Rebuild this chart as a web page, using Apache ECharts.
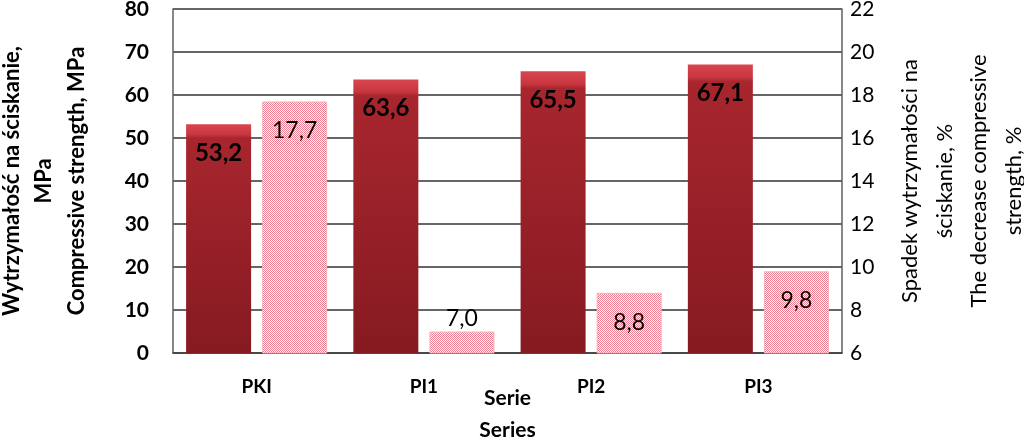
<!DOCTYPE html>
<html>
<head>
<meta charset="utf-8">
<script src="https://cdn.jsdelivr.net/npm/echarts@6/dist/echarts.min.js"></script>
<style>html,body{margin:0;padding:0;background:#fff}#c{width:1024px;height:439px}</style>
</head>
<body>
<div id="c"></div>
<script>
var categories = ['PKI', 'PI1', 'PI2', 'PI3'];
var strength = [53.2, 63.6, 65.5, 67.1];
var decrease = [17.7, 7.0, 8.8, 9.8];
var leftTicks = {min: 0, max: 80, interval: 10};
var rightTicks = {min: 6, max: 22, interval: 2};

var FONT = 'Lato';
function fmt(v){ return v.toFixed(1).replace('.', ','); }

var pc = document.createElement('canvas');
pc.width = 2; pc.height = 2;
var g = pc.getContext('2d');
g.fillStyle = '#ffffff'; g.fillRect(0,0,2,2);
g.fillStyle = '#ec7c8e'; g.fillRect(0,0,1,1); g.fillRect(1,1,1,1);

var chart = echarts.init(document.getElementById('c'), null, {renderer: 'canvas'});
var darkGrad = new echarts.graphic.LinearGradient(0,0,0,1,[
  {offset:0, color:'#d9454f'},
  {offset:0.045, color:'#c8363f'},
  {offset:0.06, color:'#a8262e'},
  {offset:1, color:'#861a21'}
]);

chart.setOption({
  animation: false,
  grid: {left: 173, right: 182, top: 9, bottom: 86, containLabel: false, outerBoundsMode: 'none'},
  xAxis: {
    type: 'category', data: categories,
    axisLine: {lineStyle: {color: '#404040', width: 1.5}},
    axisTick: {inside: true, length: 7, lineStyle: {color: '#404040', width: 1.5}},
    axisLabel: {margin: 24, color: '#000', fontFamily: FONT, fontWeight: 'bold', fontSize: 19},
    name: 'Serie\nSeries', nameLocation: 'middle', nameGap: 29, nameMoveOverlap: false,
    nameTextStyle: {color: '#000', fontFamily: FONT, fontWeight: 'bold', fontSize: 21, lineHeight: 32}
  },
  yAxis: [{
    type: 'value', min: leftTicks.min, max: leftTicks.max, interval: leftTicks.interval,
    axisLine: {show: true, lineStyle: {color: '#606060', width: 1.5}},
    axisTick: {show: false},
    splitLine: {lineStyle: {color: '#333', width: 1.5}},
    axisLabel: {margin: 24, color: '#000', fontFamily: FONT, fontWeight: 'bold', fontSize: 21},
    name: 'Wytrzymałość na ściskanie,\nMPa\nCompressive strength, MPa',
    nameLocation: 'middle', nameRotate: 90, nameGap: 80, nameMoveOverlap: false,
    nameTextStyle: {color: '#000', fontFamily: FONT, fontWeight: 'bold', fontSize: 22, lineHeight: 32.5, align: 'center'}
  }, {
    type: 'value', position: 'right', min: rightTicks.min, max: rightTicks.max, interval: rightTicks.interval,
    axisLine: {show: true, lineStyle: {color: '#606060', width: 1.5}},
    axisTick: {show: false},
    splitLine: {show: false},
    axisLabel: {margin: 8, color: '#000', fontFamily: FONT, fontSize: 21},
    name: 'Spadek wytrzymałości na\nściskanie, %\nThe decrease compressive\nstrength, %',
    nameLocation: 'middle', nameRotate: 90, nameGap: 51, nameMoveOverlap: false,
    nameTextStyle: {color: '#000', fontFamily: FONT, fontSize: 22, lineHeight: 34.5, align: 'center'}
  }],
  series: [{
    type: 'bar', yAxisIndex: 0, data: strength,
    barWidth: 65, barGap: '17%',
    itemStyle: {color: darkGrad},
    label: {show: true, position: 'insideTop', distance: 17, color: '#000',
      fontFamily: FONT, fontWeight: 'bold', fontSize: 24, formatter: function(p){return fmt(p.value);}}
  }, {
    type: 'bar', yAxisIndex: 1, data: decrease.map(function(v){
      return v < 8 ? {value: v, label: {position: 'top', distance: 1}} : v;
    }),
    barWidth: 65,
    itemStyle: {color: {image: pc, repeat: 'repeat'}, borderColor: '#f3b2bc', borderWidth: 1},
    label: {show: true, position: 'insideTop', distance: 18, color: '#000',
      fontFamily: FONT, fontSize: 23, formatter: function(p){return fmt(p.value);}}
  }]
});
</script>
</body>
</html>
